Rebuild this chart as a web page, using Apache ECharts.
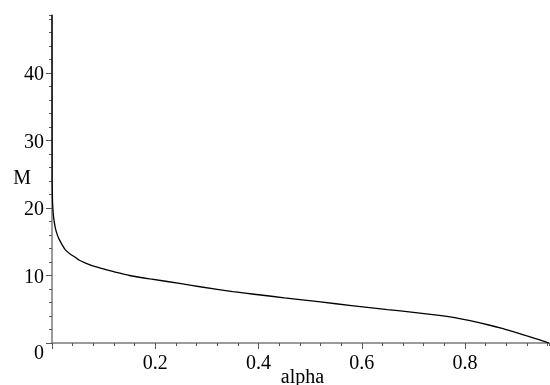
<!DOCTYPE html>
<html>
<head>
<meta charset="utf-8">
<script src="https://cdn.jsdelivr.net/npm/echarts@6/dist/echarts.min.js"></script>
<style>html,body{margin:0;padding:0;background:#fff}#c{width:550px;height:385px}</style>
</head>
<body>
<div id="c"></div>
<script>
// Data
var alpha = [0, 0.0003, 0.001, 0.002, 0.0033, 0.0066, 0.01, 0.013, 0.02, 0.026, 0.035, 0.045, 0.052, 0.065, 0.084, 0.103, 0.125, 0.15, 0.19, 0.25, 0.29, 0.35, 0.40, 0.45, 0.52, 0.58, 0.65, 0.70, 0.75, 0.78, 0.81, 0.848, 0.87, 0.89, 0.906, 0.92, 0.935, 0.945, 0.955, 0.9627];
var M     = [48.6, 24.0, 21.0, 19.6, 18.5, 17.0, 16.1, 15.5, 14.5, 13.8, 13.2, 12.7, 12.3, 11.85, 11.3, 10.9, 10.45, 10.0, 9.5, 8.8, 8.3, 7.6, 7.15, 6.7, 6.08, 5.55, 4.95, 4.55, 4.1, 3.75, 3.3, 2.63, 2.2, 1.75, 1.39, 1.05, 0.7, 0.45, 0.2, 0];
var xTickLabels = ['0.2', '0.4', '0.6', '0.8'];
var yTickLabels = ['0', '10', '20', '30', '40'];
var xName = 'alpha';
var yName = 'M';

var xMax = 0.9627, yMax = 48.6;
var font = 'Liberation Serif, Times New Roman, serif';
var axisGrey = '#7a7a7a';
var tickGrey = '#555';

var chart = echarts.init(document.getElementById('c'), null, {renderer: 'canvas'});
var pts = alpha.map(function (a, i) { return [a, M[i]]; });

chart.setOption({
  animation: false,
  backgroundColor: '#fff',
  grid: {left: 52, right: 1, top: 15, bottom: 42, containLabel: false, outerBoundsMode: 'none'},
  xAxis: [{
    type: 'value', min: 0, max: xMax, interval: 0.2, position: 'bottom',
    name: xName, nameLocation: 'middle', nameGap: 25, nameMoveOverlap: false,
    nameTextStyle: {fontFamily: font, fontSize: 20, color: '#000', padding: [0, 0, 0, 4]},
    axisLine: {show: true, lineStyle: {color: axisGrey, width: 1.5}},
    axisTick: {show: true, length: 6, inside: false, lineStyle: {color: tickGrey}},
    axisLabel: {
      show: true, margin: 11, showMaxLabel: false, showMinLabel: true,
      fontFamily: font, fontSize: 20, color: '#000',
      formatter: function (v) {
        var s = v.toFixed(1);
        return xTickLabels.indexOf(s) >= 0 ? s : '';
      }
    },
    splitLine: {show: false}
  }, {
    type: 'value', min: 0, max: xMax, interval: 0.04, position: 'bottom',
    axisLine: {show: false},
    axisTick: {show: true, length: 3, inside: false, lineStyle: {color: tickGrey}},
    axisLabel: {show: false},
    splitLine: {show: false}
  }],
  yAxis: [{
    type: 'value', min: 0, max: yMax, interval: 10, position: 'left',
    name: yName, nameLocation: 'middle', nameGap: 21, nameRotate: 0, nameMoveOverlap: false,
    nameTextStyle: {fontFamily: font, fontSize: 20, color: '#000'},
    axisLine: {show: true, lineStyle: {color: axisGrey, width: 1.5}},
    axisTick: {show: true, length: 6, inside: false, lineStyle: {color: tickGrey}},
    axisLabel: {
      show: true, margin: 8, showMaxLabel: false,
      fontFamily: font, fontSize: 20, color: '#000',
      formatter: function (v) {
        var s = String(Math.round(v));
        if (yTickLabels.indexOf(s) < 0 || Math.abs(v - Math.round(v)) > 1e-6) return '';
        return s === '0' ? '{z|0}' : '{n|' + s + '}';
      },
      rich: {
        z: {fontFamily: font, fontSize: 20, color: '#000', padding: [22, 0, 0, 0]},
        n: {fontFamily: font, fontSize: 20, color: '#000', padding: [4, 0, 0, 0]}
      }
    },
    splitLine: {show: false}
  }, {
    type: 'value', min: 0, max: yMax, interval: 2, position: 'left',
    axisLine: {show: false},
    axisTick: {show: true, length: 3, inside: false, lineStyle: {color: tickGrey}},
    axisLabel: {show: false},
    splitLine: {show: false}
  }],
  series: [{
    type: 'line', xAxisIndex: 0, yAxisIndex: 0,
    data: pts, showSymbol: false, symbol: 'none', smooth: 0.2,
    lineStyle: {color: '#000', width: 1.3},
    clip: false
  }]
});
</script>
</body>
</html>
